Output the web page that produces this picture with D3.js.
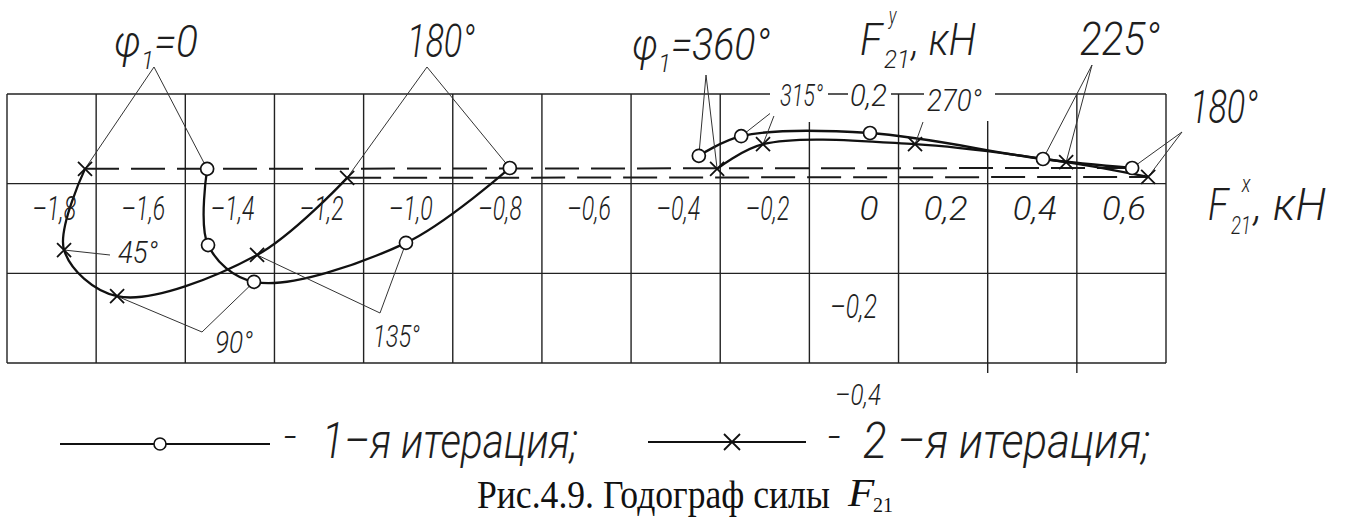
<!DOCTYPE html>
<html lang="ru">
<head>
<meta charset="UTF-8" />
<title>Годограф силы F21</title>
<script src="https://d3js.org/d3.v7.min.js"></script>
<style>
  body { margin: 0; background: #fff; }
  svg { display: block; }
  .gost { font-family: Roboto, Inter, "Liberation Sans Narrow", sans-serif; font-style: italic; font-weight: 300; fill: #1e1e1e; }
  .serif { font-family: "Liberation Serif", "Times New Roman", serif; fill: #111; }
</style>
</head>
<body>
<svg id="chart" width="1346" height="518"></svg>
<script>
// crank angle of each marked point, left branch (0..180) and right branch (180..360)
const phiLeft = [0, 45, 90, 135, 180];
const phiRight = [180, 225, 270, 315, 360];

// 1st iteration (circles), kN
const it1LeftFx = [-1.351, -1.349, -1.246, -0.905, -0.672];
const it1LeftFy = [0.033, -0.137, -0.219, -0.132, 0.035];
const it1RightFx = [0.724, 0.524, 0.136, -0.153, -0.248];
const it1RightFy = [0.035, 0.055, 0.113, 0.106, 0.062];

// 2nd iteration (crosses), kN
const it2LeftFx = [-1.625, -1.672, -1.553, -1.239, -1.037];
const it2LeftFy = [0.033, -0.148, -0.251, -0.159, 0.013];
const it2RightFx = [0.760, 0.576, 0.237, -0.104, -0.207];
const it2RightFy = [0.015, 0.048, 0.088, 0.088, 0.033];

// grid / ticks
const xGrid = [-1.8, -1.6, -1.4, -1.2, -1.0, -0.8, -0.6, -0.4, -0.2, 0, 0.2, 0.4, 0.6, 0.8];
const xTickValues = [-1.8, -1.6, -1.4, -1.2, -1.0, -0.8, -0.6, -0.4, -0.2, 0, 0.2, 0.4, 0.6];
const xTickLabels = ["–1,8", "–1,6", "–1,4", "–1,2", "–1,0", "–0,8", "–0,6", "–0,4", "–0,2", "0", "0,2", "0,4", "0,6"];
const yGrid = [0.2, 0, -0.2, -0.4];

const svg = d3.select("#chart");
const x = d3.scaleLinear().domain([-1.8, 0.8]).range([7, 1166]);
const y = d3.scaleLinear().domain([-0.4, 0.2]).range([363, 94]);

const zip = (phi, fx, fy) => phi.map((p, i) => ({ phi: p, fx: fx[i], fy: fy[i] }));
const branches = {
  it1L: zip(phiLeft, it1LeftFx, it1LeftFy),
  it1R: zip(phiRight, it1RightFx, it1RightFy),
  it2L: zip(phiLeft, it2LeftFx, it2LeftFy),
  it2R: zip(phiRight, it2RightFx, it2RightFy),
};
const pt = (ref) => {
  const d = branches[ref[0]][ref[1]];
  return [x(d.fx), y(d.fy)];
};

// grid lines
const grid = svg.append("g").attr("stroke", "#222").attr("stroke-width", 1.4);
grid.selectAll("line.v").data(xGrid).join("line")
  .attr("class", "v")
  .attr("x1", d => x(d)).attr("x2", d => x(d))
  .attr("y1", d => (d === 0 ? y(0.2) + 28 : y(0.2)))
  .attr("y2", d => (d === 0.4 || d === 0.6 ? y(-0.4) + 10 : y(-0.4)));
grid.selectAll("line.h").data(yGrid).join("line")
  .attr("class", "h")
  .attr("x1", x(-1.8)).attr("x2", x(0.8))
  .attr("y1", d => y(d)).attr("y2", d => y(d));

// dashed jump lines at 180°
const jumps = [
  [["it2L", 0], ["it1R", 0]],
  [["it2L", 4], ["it2R", 0]],
];
svg.append("g").selectAll("line").data(jumps).join("line")
  .attr("x1", d => pt(d[0])[0]).attr("y1", d => pt(d[0])[1])
  .attr("x2", d => pt(d[1])[0]).attr("y2", d => pt(d[1])[1])
  .attr("stroke", "#1a1a1a").attr("stroke-width", 2)
  .attr("stroke-dasharray", "34,12");

// hodograph curves
const line = d3.line()
  .x(d => x(d.fx)).y(d => y(d.fy))
  .curve(d3.curveCatmullRom.alpha(0.5));
svg.append("g").selectAll("path").data(Object.values(branches)).join("path")
  .attr("d", line)
  .attr("fill", "none").attr("stroke", "#111").attr("stroke-width", 2.3);

// leader lines
const leaders = [
  { from: [154, 67], to: [["it2L", 0], ["it1L", 0]] },
  { from: [427, 67], to: [["it2L", 4], ["it1L", 4]] },
  { from: [706, 75], to: [["it1R", 4], ["it2R", 4]] },
  { from: [1092, 65], to: [["it1R", 1], ["it2R", 1]] },
  { from: [1182, 132], to: [["it1R", 0], ["it2R", 0]] },
  { from: [777, 108], to: [["it1R", 3], ["it2R", 3]] },
  { from: [923, 122], to: [["it2R", 2]] },
  { from: [110, 255], to: [["it2L", 1]] },
  { from: [202, 332], to: [["it2L", 2], ["it1L", 2]] },
  { from: [380, 313], to: [["it2L", 3], ["it1L", 3]] },
];
const leaderG = svg.append("g").attr("stroke", "#333").attr("stroke-width", 1);
leaders.forEach(l => {
  l.to.forEach(ref => {
    const p = pt(ref);
    leaderG.append("line")
      .attr("x1", l.from[0]).attr("y1", l.from[1])
      .attr("x2", p[0]).attr("y2", p[1]);
  });
});

// markers
const crossPath = (s) => `M${-s},${-s}L${s},${s}M${-s},${s}L${s},${-s}`;
const markG = svg.append("g");
[...branches.it1L, ...branches.it1R].forEach(d => {
  markG.append("circle")
    .attr("cx", x(d.fx)).attr("cy", y(d.fy)).attr("r", 6.5)
    .attr("fill", "#fff").attr("stroke", "#111").attr("stroke-width", 1.7);
});
[...branches.it2L, ...branches.it2R].forEach(d => {
  markG.append("path")
    .attr("transform", `translate(${x(d.fx)},${y(d.fy)})`)
    .attr("d", crossPath(7))
    .attr("fill", "none").attr("stroke", "#111").attr("stroke-width", 1.8);
});

// text helper: parts [{t, sub}], fitted to a width w, left edge x, baseline y
function label(parts, opts) {
  const g = svg.append("g").attr("transform", `translate(${opts.x},${opts.y})`);
  const t = g.append("text").attr("class", opts.cls || "gost")
    .attr("font-size", opts.size);
  let shift = 0;
  (typeof parts === "string" ? [{ t: parts }] : parts).forEach(p => {
    const target = p.sub ? opts.size * 0.28 : 0;
    t.append("tspan")
      .attr("font-size", p.sub ? opts.size * 0.6 : opts.size)
      .attr("dy", target - shift)
      .text(p.t);
    shift = target;
  });
  const bb = t.node().getBBox();
  const s = opts.w ? opts.w / bb.width : 1;
  t.attr("transform", `translate(${-bb.x * s},0) scale(${s},1)`);
  if (opts.knock) {
    g.insert("rect", "text")
      .attr("x", -opts.knock[0]).attr("y", bb.y - 2)
      .attr("width", bb.width * s + opts.knock[0] + opts.knock[1])
      .attr("height", bb.height + 4)
      .attr("fill", "#fff");
  }
  return g;
}

// annotations
label([{ t: "φ" }, { t: "1", sub: true }, { t: "=0" }], { x: 114, y: 57, w: 84, size: 44 });
label("180°", { x: 407, y: 57, w: 68, size: 46 });
label([{ t: "φ" }, { t: "1", sub: true }, { t: "=360°" }], { x: 632, y: 60, w: 138, size: 44 });
label("225°", { x: 1080, y: 55, w: 80, size: 46 });
label("180°", { x: 1190, y: 123, w: 68, size: 46 });
label("315°", { x: 780, y: 106, w: 43, size: 32, knock: [10, 5] });
label("0,2", { x: 850, y: 106, w: 37, size: 32, knock: [2, 4] });
label("270°", { x: 927, y: 111, w: 55, size: 32, knock: [3, 13] });
label("45°", { x: 118, y: 263, w: 40, size: 32 });
label("90°", { x: 215, y: 353, w: 38, size: 32 });
label("135°", { x: 373, y: 347, w: 47, size: 32 });
label("–0,2", { x: 830, y: 318, w: 47, size: 34 });
label("–0,4", { x: 835, y: 405, w: 46, size: 30 });

// axis titles
label("F", { x: 860, y: 55, w: 24, size: 44 });
label("y", { x: 888, y: 24, w: 9, size: 24 });
label("21", { x: 884, y: 68, w: 26, size: 26 });
label(", кН", { x: 910, y: 55, w: 66, size: 44 });
label("F", { x: 1208, y: 220, w: 22, size: 44 });
label("x", { x: 1241, y: 192, w: 10, size: 24 });
label("21", { x: 1231, y: 234, w: 20, size: 26 });
label(", кН", { x: 1252, y: 220, w: 74, size: 44 });

// x tick labels (written right of their grid line)
xTickValues.forEach((v, i) => {
  const w = xTickLabels[i].length === 1 ? 19 : 44;
  label(xTickLabels[i], { x: x(v + 0.2) - 20 - w, y: 220, w: w, size: 34 });
});

// legend
const legendY = 444;
svg.append("line").attr("x1", 60).attr("x2", 270).attr("y1", legendY).attr("y2", legendY)
  .attr("stroke", "#111").attr("stroke-width", 2);
svg.append("circle").attr("cx", 160).attr("cy", legendY).attr("r", 6)
  .attr("fill", "#fff").attr("stroke", "#111").attr("stroke-width", 1.6);
label("–", { x: 283, y: 452, w: 14, size: 40 });
label("1–я итерация;", { x: 322, y: 458, w: 256, size: 50 });

svg.append("line").attr("x1", 648).attr("x2", 806).attr("y1", legendY - 2).attr("y2", legendY - 2)
  .attr("stroke", "#111").attr("stroke-width", 2);
svg.append("path").attr("transform", `translate(732,${legendY - 2})`).attr("d", crossPath(8))
  .attr("fill", "none").attr("stroke", "#111").attr("stroke-width", 1.8);
label("–", { x: 827, y: 452, w: 14, size: 40 });
label("2 –я итерация;", { x: 863, y: 458, w: 287, size: 50 });

// caption
label("Рис.4.9. Годограф силы", { x: 477, y: 508, w: 353, size: 40, cls: "serif" });
label("F", { x: 848, y: 506, w: 24, size: 40, cls: "serif" }).select("text").attr("font-style", "italic");
label("21", { x: 873, y: 512, w: 20, size: 22, cls: "serif" });
</script>
</body>
</html>
